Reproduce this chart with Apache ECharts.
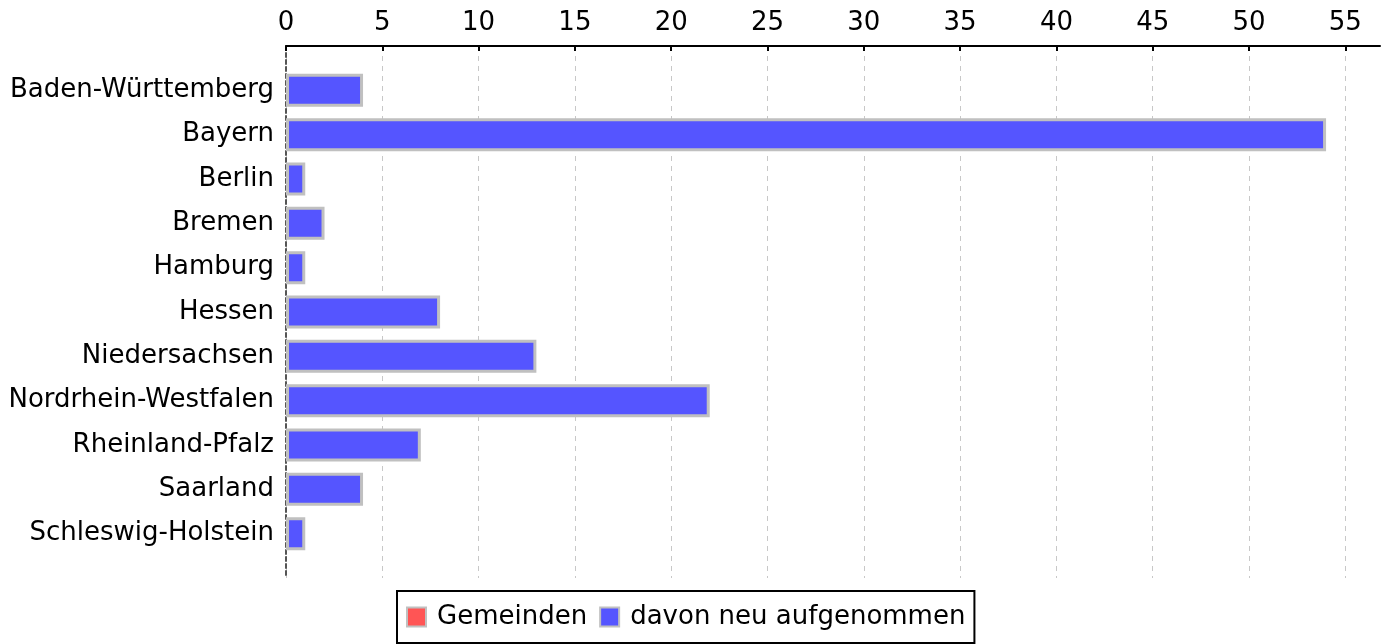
<!DOCTYPE html>
<html><head><meta charset="utf-8">
<script src="https://cdn.jsdelivr.net/npm/echarts@6/dist/echarts.min.js"></script>
<style>html,body{margin:0;padding:0;background:#fff}#c{width:1388px;height:644px}</style>
</head><body><div id="c"></div>
<script>
const categories = ['Baden-Württemberg','Bayern','Berlin','Bremen','Hamburg','Hessen','Niedersachsen','Nordrhein-Westfalen','Rheinland-Pfalz','Saarland','Schleswig-Holstein'];
const gemeinden = [];
const neuAufgenommen = [4,54,1,2,1,8,13,22,7,4,1];
const xTicks = [0,5,10,15,20,25,30,35,40,45,50,55];

const cats = [''].concat(categories, ['']);
const padData = arr => [null].concat(arr, [null]);
const FONT = 'DejaVu Sans';
const chart = echarts.init(document.getElementById('c'));
chart.setOption({
  animation:false,
  textStyle:{fontFamily:FONT},
  grid:{left:286,right:8,top:46,bottom:66,containLabel:false},
  legend:{
    bottom:1, left:397,
    data:['Gemeinden','davon neu aufgenommen'],
    borderColor:'#000', borderWidth:2, padding:[13,9,13,9],
    itemWidth:19,itemHeight:19,itemGap:12,
    textStyle:{fontFamily:FONT,fontSize:26,color:'#000',padding:[0,0,0,6]},
    icon:'rect'
  },
  xAxis:{
    type:'value', position:'top', min:0, max:56.8,
    axisLine:{show:true,lineStyle:{color:'#000',width:2}},
    axisTick:{show:true,inside:true,length:5,lineStyle:{color:'#000',width:2},customValues:xTicks},
    axisLabel:{fontFamily:FONT,fontSize:26,color:'#000',margin:10,customValues:xTicks},
    splitLine:{show:true,lineStyle:{color:'#c8c8c8',type:[5,5],width:1}}
  },
  yAxis:{
    type:'category', data:cats, inverse:true, boundaryGap:false,
    axisLine:{show:true,lineStyle:{color:'#555',type:[4,3],width:2}},
    axisTick:{show:false},
    axisLabel:{fontFamily:FONT,fontSize:26,color:'#000',margin:12},
    splitLine:{show:false}
  },
  series:[
    {name:'Gemeinden',type:'bar',data:padData(gemeinden.length?gemeinden:categories.map(()=>null)),
     itemStyle:{color:'#ff5555',borderColor:'#c0c0c0',borderWidth:3},barWidth:33,barGap:'-100%'},
    {name:'davon neu aufgenommen',type:'bar',data:padData(neuAufgenommen),
     itemStyle:{color:'#5555ff',borderColor:'#c0c0c0',borderWidth:3},barWidth:33,barGap:'-100%'}
  ]
});
</script></body></html>
